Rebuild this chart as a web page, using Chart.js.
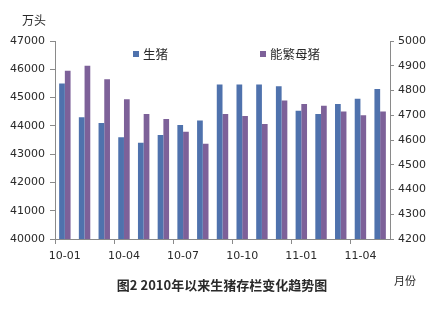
<!DOCTYPE html>
<html>
<head>
<meta charset="utf-8">
<script src="https://cdn.jsdelivr.net/npm/chart.js@4"></script>
<style>
html,body{margin:0;padding:0;background:#fff;}
#wrap{width:440px;height:310px;position:relative;}
</style>
</head>
<body>
<div id="wrap"><canvas id="c" width="440" height="310"></canvas></div>
<script>
const categories = ["10-01","10-02","10-03","10-04","10-05","10-06","10-07","10-08","10-09","10-10","10-11","10-12","11-01","11-02","11-03","11-04","11-05"];
const hogs = [45500,44300,44100,43600,43400,43680,44030,44190,45460,45460,45460,45400,44530,44420,44770,44960,45300];
const sows = [4880,4900,4845,4765,4705,4685,4633,4585,4705,4697,4665,4760,4745,4738,4715,4700,4715];
const leftTicks = {min:40000, max:47000, step:1000};
const rightTicks = {min:4200, max:5000, step:100};
const seriesNames = ["生猪","能繁母猪"];
const yUnit = "万头";
const xUnit = "月份";
const chartTitle = "图2 2010年以来生猪存栏变化趋势图";

const BLUE = '#4f72ad';
const PURPLE = '#7d6199';
const AXIS = '#8a8a8a';
const TXT = '#2a2a2a';
const NUMFONT = "'DejaVu Sans', 'Noto Sans CJK SC', sans-serif";
const CJK = "'Noto Sans CJK SC', 'DejaVu Sans', sans-serif";

const textPlugin = {
  id: 'texts',
  afterDraw(chart) {
    const ctx = chart.ctx;
    ctx.save();
    ctx.fillStyle = TXT;
    ctx.textBaseline = 'middle';
    ctx.textAlign = 'center';
    ctx.font = "12px " + CJK;
    ctx.fillText(yUnit, 34, 20);
    ctx.font = "11px " + CJK;
    ctx.fillText(xUnit, 405, 281);
    ctx.font = "bold 13px " + CJK;
    ctx.fillText(chartTitle, 222, 285);
    const items = [
      {x:133, color: chart.data.datasets[0].backgroundColor, label: chart.data.datasets[0].label},
      {x:260, color: chart.data.datasets[1].backgroundColor, label: chart.data.datasets[1].label}
    ];
    ctx.textAlign = 'left';
    ctx.font = "12.5px " + CJK;
    items.forEach(it => {
      ctx.fillStyle = it.color;
      ctx.fillRect(it.x, 51, 6, 6);
      ctx.fillStyle = TXT;
      ctx.fillText(it.label, it.x + 10, 54);
    });
    ctx.restore();
  }
};

new Chart(document.getElementById('c'), {
  type: 'bar',
  data: {
    labels: categories,
    datasets: [
      {label: seriesNames[0], data: hogs, backgroundColor: BLUE, yAxisID: 'y', categoryPercentage: 0.58, barPercentage: 1.0},
      {label: seriesNames[1], data: sows, backgroundColor: PURPLE, yAxisID: 'y1', categoryPercentage: 0.58, barPercentage: 1.0}
    ]
  },
  options: {
    responsive: false,
    animation: false,
    layout: {padding: {top: 41, left: 0, right: 0, bottom: 0}},
    plugins: {legend: {display: false}, tooltip: {enabled: false}, title: {display: false}},
    scales: {
      x: {
        offset: true,
        border: {color: AXIS, width: 1},
        grid: {
          offset: true,
          drawOnChartArea: false,
          drawTicks: true,
          tickLength: 5,
          color: (c) => (c.index !== undefined && c.index % 3 === 0) ? AXIS : 'rgba(0,0,0,0)'
        },
        ticks: {
          autoSkip: false,
          maxRotation: 0,
          padding: 6,
          color: TXT,
          font: {size: 11, family: NUMFONT},
          callback: (v, i) => (i % 3 === 0 ? categories[i] : '')
        },
        afterFit: (s) => { s.height = 71; }
      },
      y: {
        position: 'left',
        min: leftTicks.min, max: leftTicks.max,
        border: {color: AXIS, width: 1},
        grid: {drawOnChartArea: false, drawTicks: true, tickLength: 5, color: AXIS},
        ticks: {stepSize: leftTicks.step, padding: 5, color: TXT, font: {size: 11, family: NUMFONT},
                callback: (v) => String(v)},
        afterFit: (s) => { s.width = 55; }
      },
      y1: {
        position: 'right',
        min: rightTicks.min, max: rightTicks.max,
        border: {color: AXIS, width: 1},
        grid: {drawOnChartArea: false, drawTicks: true, tickLength: 4, color: AXIS},
        ticks: {stepSize: rightTicks.step, padding: 4, color: TXT, font: {size: 11, family: NUMFONT},
                callback: (v) => String(v)},
        afterFit: (s) => { s.width = 50; }
      }
    }
  },
  plugins: [textPlugin]
});
</script>
</body>
</html>
